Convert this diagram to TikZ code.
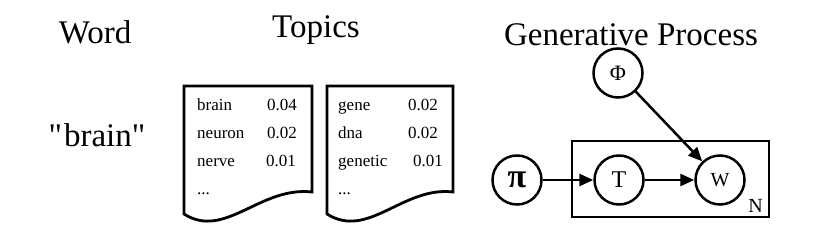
\documentclass[tikz,border=0pt]{standalone}
\usepackage{fontspec}
\setmainfont{Liberation Serif}
\newfontfamily\rawserif{Liberation Serif}
\usetikzlibrary{arrows.meta}
\tikzset{
  title/.style={font=\fontsize{33}{33}\selectfont, anchor=base, inner sep=0pt},
  doctext/.style={font=\fontsize{17}{17}\selectfont, anchor=base west, inner sep=0pt},
  docshape/.style={draw, line width=2.8pt, line join=miter},
  var/.style={draw, circle, line width=2.5pt, minimum size=49pt, inner sep=0pt},
  arr/.style={line width=2.5pt, -{Triangle[length=14pt, width=12pt]}},
  plate/.style={draw, line width=2.8pt, inner sep=0pt},
}
\begin{document}
\begin{tikzpicture}[x=1pt, y=-1pt]
\useasboundingbox (0,0) rectangle (830,240);
% titles
\node[title] (tword) at (95,44) {Word};
\node[title] (ttopics) at (316,38) {Topics};
\node[title] (tgen) at (631,46) {Generative Process};
\node[title] (wbrain) at (97,147) {\rawserif "\kern2pt brain"};
% document 1
\draw[docshape] (184,86) -- (312,86) -- (312,192)
  .. controls (260,186) and (225,240) .. (184,214) -- cycle;
\node[doctext] (d1a) at (197,111) {brain};
\node[doctext] (d1b) at (197,139) {neuron};
\node[doctext] (d1c) at (197,167) {nerve};
\node[doctext] (d1d) at (197,195) {...};
\node[doctext] (d1an) at (267,111) {0.04};
\node[doctext] (d1bn) at (267,139) {0.02};
\node[doctext] (d1cn) at (266,167) {0.01};
% document 2
\draw[docshape] (327,86) -- (453,86) -- (453,192)
  .. controls (403,186) and (368,240) .. (327,214) -- cycle;
\node[doctext] (d2a) at (338,111) {gene};
\node[doctext] (d2b) at (338,139) {dna};
\node[doctext] (d2c) at (338,167) {genetic};
\node[doctext] (d2d) at (338,195) {...};
\node[doctext] (d2an) at (408,111) {0.02};
\node[doctext] (d2bn) at (408,139) {0.02};
\node[doctext] (d2cn) at (413,167) {0.01};
% plate
\node[plate, minimum width=197pt, minimum height=76pt] (pl) at (670.5,179) {};
\node[font=\fontsize{20}{20}\selectfont, anchor=base east, inner sep=0pt] (nlab) at (763,213) {N};
% variables
\node[var] (pi) at (517,180) {\fontsize{34}{34}\selectfont\bfseries π};
\node[var] (t) at (619,180) {\fontsize{24}{24}\selectfont T};
\node[var] (w) at (720,180) {\fontsize{20}{20}\selectfont W};
\node[var] (phi) at (618,73) {\fontsize{22}{22}\selectfont Φ};
\draw[arr] (pi) -- (t);
\draw[arr] (t) -- (w);
\draw[arr] (phi) -- (w);
\end{tikzpicture}
\end{document}
